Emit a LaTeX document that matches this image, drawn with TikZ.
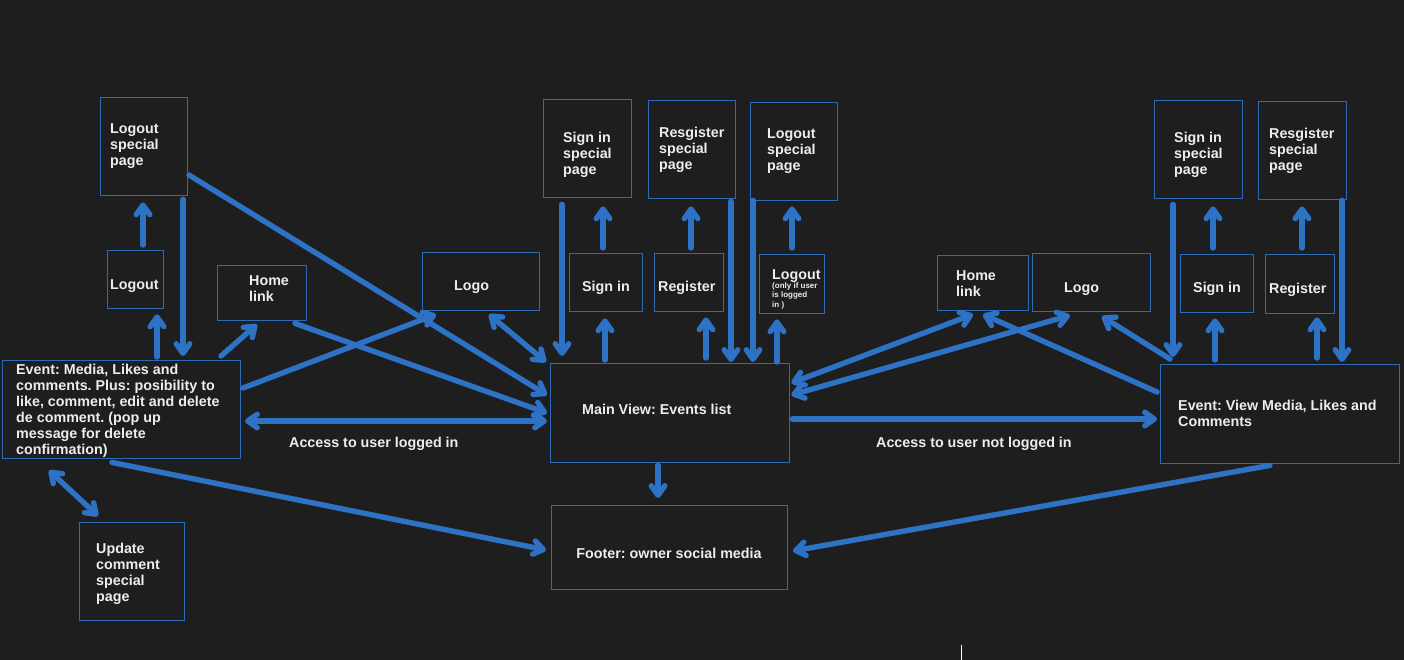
\documentclass[tikz,border=0pt]{standalone}
\usepackage{fontspec}
\setmainfont{Liberation Sans}
\usetikzlibrary{arrows.meta,calc}
\frenchspacing
\definecolor{bg}{HTML}{1E1E1E}
\definecolor{boxblue}{HTML}{2B6BB8}
\definecolor{arrblue}{HTML}{2D72C4}
\definecolor{txtcol}{HTML}{EDEDED}
\tikzset{
  box/.style={draw=boxblue, line width=1.4pt, fill=bg, inner sep=0pt, anchor=north west},
  txt/.style={text=txtcol, font=\bfseries\fontsize{14.3}{16}\selectfont, inner sep=0pt, align=left},
  smalltxt/.style={text=txtcol, font=\bfseries\fontsize{8}{9.5}\selectfont, inner sep=0pt, align=left},
  tipb/.tip={Straight Barb[length=9.5pt,width=13.5pt,line cap=round,line join=round]},
  arr/.style={draw=arrblue, line width=5.4pt, line cap=round, -{tipb}},
  darr/.style={draw=arrblue, line width=5.4pt, line cap=round, {tipb}-{tipb}},
}
\begin{document}
\begin{tikzpicture}[x=1pt,y=-1pt]
\fill[bg] (0,0) rectangle (1404,660);
\useasboundingbox (0,0) rectangle (1404,660);

% ---------------- boxes ----------------
\node[box, minimum width=87pt,  minimum height=98pt] (lsp1)  at (100,97)  {};
\node[box, minimum width=56pt,  minimum height=58pt] (l1)    at (107,250) {};
\node[box, minimum width=89pt,  minimum height=55pt] (h1)    at (217,265) {};
\node[box, minimum width=117pt, minimum height=58pt] (logo1) at (422,252) {};
\node[box, minimum width=238pt, minimum height=98pt] (e1)    at (2,360)   {};
\node[box, minimum width=105pt, minimum height=98pt] (u)     at (79,522)  {};
\node[box, minimum width=88pt,  minimum height=98pt] (s1)    at (543,99)  {};
\node[box, minimum width=87pt,  minimum height=98pt] (r1)    at (648,100) {};
\node[box, minimum width=87pt,  minimum height=98pt] (lsp2)  at (750,102) {};
\node[box, minimum width=73pt,  minimum height=58pt] (si1)   at (569,253) {};
\node[box, minimum width=69pt,  minimum height=58pt] (rg1)   at (654,253) {};
\node[box, minimum width=65pt,  minimum height=59pt] (l2)    at (759,254) {};
\node[box, minimum width=239pt, minimum height=99pt] (m)     at (550,363) {};
\node[box, minimum width=236pt, minimum height=84pt] (f)     at (551,505) {};
\node[box, minimum width=91pt,  minimum height=55pt] (h2)    at (937,255) {};
\node[box, minimum width=118pt, minimum height=58pt] (logo2) at (1032,253) {};
\node[box, minimum width=88pt,  minimum height=98pt] (s2)    at (1154,100) {};
\node[box, minimum width=88pt,  minimum height=98pt] (r2)    at (1258,101) {};
\node[box, minimum width=73pt,  minimum height=58pt] (si2)   at (1180,254) {};
\node[box, minimum width=69pt,  minimum height=59pt] (rg2)   at (1265,254) {};
\node[box, minimum width=239pt, minimum height=99pt] (e2)    at (1160,364) {};

% ---------------- texts ----------------
\node[txt, anchor=north west] (lsp1t) at (110,123) {Logout\\special\\page};
\node[txt, anchor=base west] (l1t) at (110,289) {Logout};
\node[txt, anchor=north west] (h1t) at (249,275) {Home\\link};
\node[txt, anchor=base west] (logo1t) at (454,290) {Logo};
\node[txt, anchor=north west] (e1t) at (16,364) {Event: Media, Likes and\\comments. Plus: posibility to\\like, comment, edit and delete\\de comment. (pop up\\message for delete\\confirmation)};
\node[txt, anchor=north west] (ut) at (96,543) {Update\\comment\\special\\page};
\node[txt, anchor=north west] (s1t) at (563,132) {Sign in\\special\\page};
\node[txt, anchor=north west] (r1t) at (659,127) {Resgister\\special\\page};
\node[txt, anchor=north west] (lsp2t) at (767,128) {Logout\\special\\page};
\node[txt, anchor=base west] (si1t) at (582,291) {Sign in};
\node[txt, anchor=base west] (rg1t) at (658,291) {Register};
\node[txt, anchor=base west] (l2t) at (772,279) {Logout};
\node[smalltxt, anchor=base west] (l2s1) at (772,288) {(only if user};
\node[smalltxt, anchor=base west] (l2s2) at (772,297.5) {is logged};
\node[smalltxt, anchor=base west] (l2s3) at (772,307) {in )};
\node[txt, anchor=base west] (mt) at (582,414) {Main View: Events list};
\node[txt, anchor=base] (ft) at (669,558) {Footer: owner social media};
\node[txt, anchor=north west] (h2t) at (956,270) {Home\\link};
\node[txt, anchor=base west] (logo2t) at (1064,292) {Logo};
\node[txt, anchor=north west] (s2t) at (1174,132) {Sign in\\special\\page};
\node[txt, anchor=north west] (r2t) at (1269,128) {Resgister\\special\\page};
\node[txt, anchor=base west] (si2t) at (1193,292) {Sign in};
\node[txt, anchor=base west] (rg2t) at (1269,293) {Register};
\node[txt, anchor=north west] (e2t) at (1178,400) {Event: View Media, Likes and\\Comments};
\node[txt, anchor=base west] (lab1) at (289,447) {Access to user logged in};
\node[txt, anchor=base west] (lab2) at (876,447) {Access to user not logged in};

% ---------------- connectors ----------------
% left cluster
\draw[arr]  ($(l1.north west)+(36,-5)$)   -- ($(lsp1.south west)+(43,6)$);
\draw[arr]  ($(e1.north west)+(155,-3)$)  -- ($(l1.south west)+(50,5)$);
\draw[arr]  ($(lsp1.south west)+(83,3)$)  -- ($(e1.north west)+(181,-4)$);
\draw[arr]  ($(e1.north west)+(219,-4)$)  -- ($(h1.south west)+(40,3)$);
\draw[arr]  ($(lsp1.north west)+(89,78)$) -- ($(m.north west)+(-3,32)$);
\draw[arr]  ($(h1.south west)+(78,2)$)    -- ($(m.north west)+(-3,50)$);
\draw[arr]  ($(e1.north west)+(241,28)$)  -- ($(logo1.south west)+(14,3)$);
\draw[darr] ($(logo1.south west)+(67,3)$) -- ($(m.north west)+(-4,-1)$);
\draw[darr] ($(e1.north west)+(243,61)$)  -- ($(m.north west)+(-3,58)$);
\draw[arr]  ($(e1.south west)+(110,3)$)   -- ($(f.north west)+(-5,45)$);
\draw[darr] ($(e1.south west)+(47,11)$)   -- ($(u.north west)+(19,-6)$);
% middle
\draw[arr]  ($(m.south west)+(108,2)$)    -- ($(f.north west)+(107,-7)$);
\draw[arr]  ($(s1.south west)+(19,6)$)    -- ($(m.north west)+(12,-7)$);
\draw[arr]  ($(m.north west)+(55,-3)$)    -- ($(si1.south west)+(36,6)$);
\draw[arr]  ($(si1.north west)+(34,-5)$)  -- ($(s1.south west)+(60,8)$);
\draw[arr]  ($(rg1.north west)+(37,-5)$)  -- ($(r1.south west)+(43,7)$);
\draw[arr]  ($(m.north west)+(156,-5)$)   -- ($(rg1.south west)+(52,5)$);
\draw[arr]  ($(r1.south west)+(83,2)$)    -- ($(m.north west)+(181,-1)$);
\draw[arr]  ($(lsp2.south west)+(3,-1)$)  -- ($(m.north west)+(203,-1)$);
\draw[arr]  ($(m.north west)+(227,-1)$)   -- ($(l2.south west)+(18,5)$);
\draw[arr]  ($(l2.north west)+(33,-6)$)   -- ($(lsp2.south west)+(42,5)$);
% right
\draw[darr] ($(m.north east)+(1,20)$)     -- ($(h2.south west)+(36,3)$);
\draw[darr] ($(m.north east)+(1,32)$)     -- ($(logo2.south west)+(38,3)$);
\draw[arr]  ($(e2.north west)+(-3,28)$)   -- ($(h2.south west)+(46,3)$);
\draw[arr]  ($(e2.north west)+(10,-5)$)   -- ($(logo2.south west)+(70,4)$);
\draw[arr]  ($(s2.south west)+(19,5)$)    -- ($(e2.north west)+(13,-7)$);
\draw[arr]  ($(e2.north west)+(55,-4)$)   -- ($(si2.south west)+(35,5)$);
\draw[arr]  ($(si2.north west)+(33,-6)$)  -- ($(s2.south west)+(59,7)$);
\draw[arr]  ($(rg2.north west)+(37,-6)$)  -- ($(r2.south west)+(44,6)$);
\draw[arr]  ($(e2.north west)+(157,-6)$)  -- ($(rg2.south west)+(52,3)$);
\draw[arr]  ($(r2.south west)+(84,0)$)    -- ($(e2.north west)+(182,-2)$);
\draw[arr]  ($(m.north east)+(2,56)$)     -- ($(e2.north west)+(-3,55)$);
\draw[arr]  ($(e2.south west)+(110,1)$)   -- ($(f.north west)+(242,46)$);

% small cursor mark
\draw[white, line width=0.8pt] (961,645) -- (961,660);
\end{tikzpicture}
\end{document}
